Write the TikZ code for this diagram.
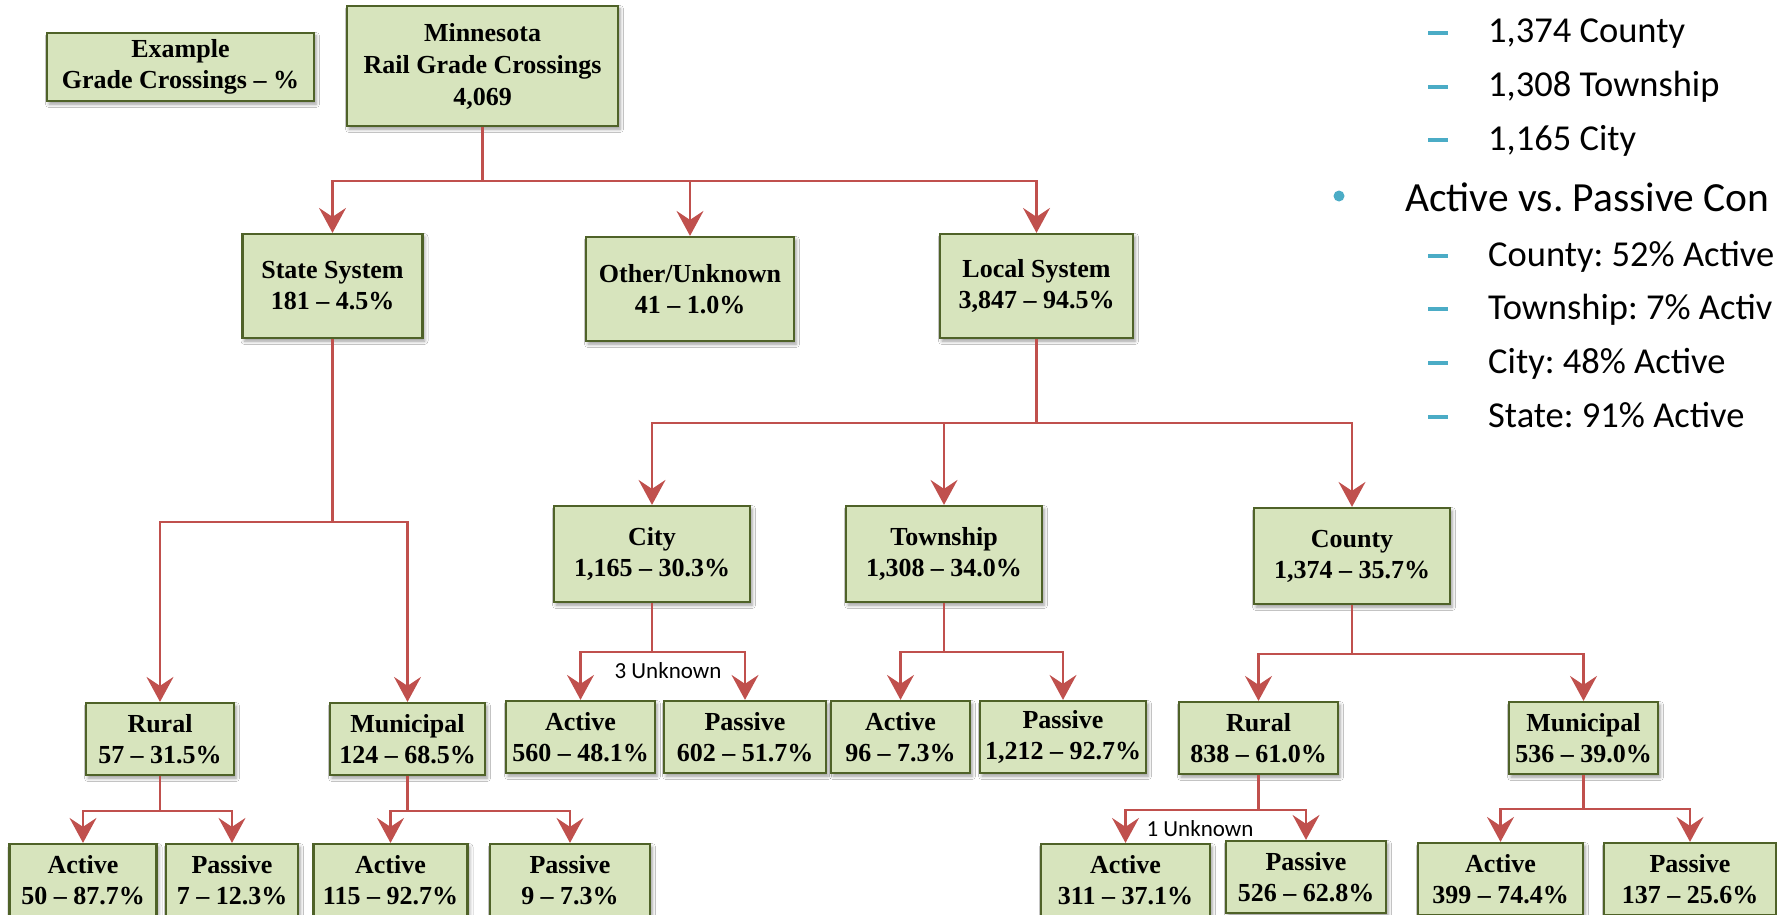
\documentclass[tikz,border=0pt]{standalone}
\usepackage{fontspec}
\setmainfont{Liberation Serif}
\newfontfamily\calibri{Carlito}
\usetikzlibrary{arrows.meta,shadows.blur}
\definecolor{boxfill}{HTML}{D7E4BD}
\definecolor{boxline}{HTML}{4F6228}
\definecolor{conncol}{HTML}{C0504D}
\definecolor{accent}{HTML}{4BACC6}
\frenchspacing
\begin{document}
\begin{tikzpicture}[x=1pt,y=-1pt,
  box/.style={draw=boxline, fill=boxfill, line width=2.2pt, align=center, inner sep=0pt,
    font=\bfseries\fontsize{26}{31}\selectfont,
    blur shadow={shadow xshift=2pt, shadow yshift=-3pt, shadow blur radius=3.5pt, shadow opacity=40}},
  conn/.style={draw=conncol, line width=2.2pt, -{Stealth[length=25pt,width=27pt,inset=9pt]}},
  subtext/.style={anchor=base west, font=\calibri\frenchspacing\fontsize{36.5}{44}\selectfont, inner sep=0pt},
  maintext/.style={anchor=base west, font=\calibri\frenchspacing\fontsize{41.5}{50}\selectfont, inner sep=0pt},
  dashline/.style={draw=accent, line width=3.2pt},
  note/.style={font=\calibri\fontsize{23}{28}\selectfont, inner sep=1pt}
]
\useasboundingbox (0,0) rectangle (1777,915);
\clip (0,0) rectangle (1777,915);
\fill[white] (0,0) rectangle (1777,915);

% top level
\node[box, minimum width=267pt, minimum height=68pt] (example) at (180.5,67) {Example\\Grade Crossings – \%};
\node[box, minimum width=271pt, minimum height=120pt, font=\bfseries\fontsize{26}{32}\selectfont] (minn) at (482.5,66) {Minnesota\\Rail Grade Crossings\\4,069};

% second level
\node[box, minimum width=180pt, minimum height=104pt] (state) at (332.5,286) {State System\\181 – 4.5\%};
\node[box, minimum width=208pt, minimum height=104pt] (other) at (690,289) {Other/Unknown\\41 – 1.0\%};
\node[box, minimum width=193pt, minimum height=104pt] (local) at (1036.5,286) {Local System\\3,847 – 94.5\%};

% third level
\node[box, minimum width=196pt, minimum height=96pt] (city) at (652,554) {City\\1,165 – 30.3\%};
\node[box, minimum width=196pt, minimum height=96pt] (twp) at (944,554) {Township\\1,308 – 34.0\%};
\node[box, minimum width=196pt, minimum height=96pt] (county) at (1352,556) {County\\1,374 – 35.7\%};

\node[box, minimum width=148pt, minimum height=72pt] (srural) at (160,739) {Rural\\57 – 31.5\%};
\node[box, minimum width=155pt, minimum height=72pt] (smun) at (407.5,739) {Municipal\\124 – 68.5\%};

\node[box, minimum width=149pt, minimum height=72pt] (cact) at (580.5,737) {Active\\560 – 48.1\%};
\node[box, minimum width=162pt, minimum height=72pt] (cpas) at (745,737) {Passive\\602 – 51.7\%};
\node[box, minimum width=139pt, minimum height=72pt] (tact) at (900.5,737) {Active\\96 – 7.3\%};
\node[box, minimum width=166pt, minimum height=72pt] (tpas) at (1063,737) {Passive\\1,212 – 92.7\%};

\node[box, minimum width=159pt, minimum height=72pt] (crural) at (1258.5,738) {Rural\\838 – 61.0\%};
\node[box, minimum width=149pt, minimum height=72pt] (cmun) at (1583.5,738) {Municipal\\536 – 39.0\%};

% bottom row
\node[box, minimum width=147pt, minimum height=72pt] (sract) at (83,880) {Active\\50 – 87.7\%};
\node[box, minimum width=132pt, minimum height=72pt] (srpas) at (232,880) {Passive\\7 – 12.3\%};
\node[box, minimum width=154pt, minimum height=72pt] (smact) at (390.5,880) {Active\\115 – 92.7\%};
\node[box, minimum width=160pt, minimum height=72pt] (smpas) at (570,880) {Passive\\9 – 7.3\%};
\node[box, minimum width=169pt, minimum height=72pt] (cract) at (1125.5,880) {Active\\311 – 37.1\%};
\node[box, minimum width=160pt, minimum height=72pt] (crpas) at (1306,877) {Passive\\526 – 62.8\%};
\node[box, minimum width=165pt, minimum height=72pt] (cmact) at (1500.5,879) {Active\\399 – 74.4\%};
\node[box, minimum width=172pt, minimum height=72pt] (cmpas) at (1690,879) {Passive\\137 – 25.6\%};

% connectors
\draw[conn] (minn.south) -- ++(0,54) -| (state.north);
\draw[conn] (minn.south) -- ++(0,54) -| (other.north);
\draw[conn] (minn.south) -- ++(0,54) -| (local.north);

\draw[conn] (state.south) -- ++(0,183) -| (srural.north);
\draw[conn] (state.south) -- ++(0,183) -| (smun.north);

\draw[conn] (local.south) -- ++(0,84) -| (city.north);
\draw[conn] (local.south) -- ++(0,84) -| (twp.north);
\draw[conn] (local.south) -- ++(0,84) -| (county.north);

\draw[conn] (srural.south) -- ++(0,35) -| (sract.north);
\draw[conn] (srural.south) -- ++(0,35) -| (srpas.north);
\draw[conn] (smun.south) -- ++(0,35) -| (smact.north);
\draw[conn] (smun.south) -- ++(0,35) -| (smpas.north);

\draw[conn] (city.south) -- ++(0,49) -| (cact.north);
\draw[conn] (city.south) -- ++(0,49) -| (cpas.north);
\draw[conn] (twp.south) -- ++(0,49) -| (tact.north);
\draw[conn] (twp.south) -- ++(0,49) -| (tpas.north);

\draw[conn] (county.south) -- ++(0,49) -| (crural.north);
\draw[conn] (county.south) -- ++(0,49) -| (cmun.north);

\draw[conn] (crural.south) -- ++(0,35) -| (cract.north);
\draw[conn] (crural.south) -- ++(0,35) -| (crpas.north);
\draw[conn] (cmun.south) -- ++(0,34) -| (cmact.north);
\draw[conn] (cmun.south) -- ++(0,34) -| (cmpas.north);

% connector labels
\node[note] (unk3) at (668,671) {3 Unknown};
\node[note] (unk1) at (1200,829) {1 Unknown};

% right-hand bullet text
\draw[dashline] (1428,33) -- (1448,33);
\node[subtext] (t1) at (1488,43) {1,374 County};
\draw[dashline] (1428,87) -- (1448,87);
\node[subtext] (t2) at (1488,97) {1,308 Township};
\draw[dashline] (1428,140) -- (1448,140);
\node[subtext] (t3) at (1488,150) {1,165 City};

\fill[accent] (1339,196) circle (5.5pt);
\node[maintext] (t4) at (1405,211) {Active vs. Passive Con};

\draw[dashline] (1428,256) -- (1448,256);
\node[subtext] (t5) at (1488,266) {County: 52\% Active};
\draw[dashline] (1428,309) -- (1448,309);
\node[subtext] (t6) at (1488,319) {Township: 7\% Activ};
\draw[dashline] (1428,363) -- (1448,363);
\node[subtext] (t7) at (1488,373) {City: 48\% Active};
\draw[dashline] (1428,417) -- (1448,417);
\node[subtext] (t8) at (1488,427) {State: 91\% Active};
\end{tikzpicture}
\end{document}
